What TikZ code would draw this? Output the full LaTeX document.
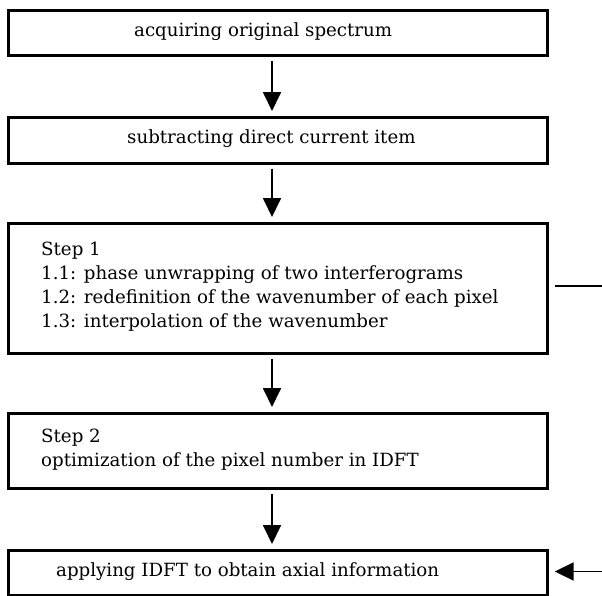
\documentclass[tikz,border=0pt]{standalone}
\usepackage{fontspec}
\setmainfont{DejaVu Serif}
\usetikzlibrary{arrows.meta}
\begin{document}
\begin{tikzpicture}[x=1pt,y=-1pt,
  box/.style={draw, line width=2.7pt, inner sep=0pt, anchor=north west, minimum width=539pt},
  txt/.style={inner sep=0pt, anchor=west, font=\fontsize{18.2}{24}\selectfont},
  arr/.style={line width=1.8pt, -{Triangle[width=18pt,length=19pt]}, shorten <=4pt, shorten >=5pt},
  ln/.style={line width=1.6pt}]
\useasboundingbox (0,0) rectangle (602,595);
\node[box, minimum height=45pt] (b1) at (7,9) {};
\node[box, minimum height=46pt] (b2) at (7,116) {};
\node[box, minimum height=130pt] (b3) at (7,222) {};
\node[box, minimum height=75pt] (b4) at (7,412) {};
\node[box, minimum height=45pt] (b5) at (7,549) {};
\node[txt] (t1) at (134,31.5) {acquiring original spectrum};
\node[txt] (t2) at (127,139) {subtracting direct current item};
\node[txt, align=left] (t3) at (41,287) {Step 1\\1.1: phase unwrapping of two interferograms\\1.2: redefinition of the wavenumber of each pixel\\1.3: interpolation of the wavenumber};
\node[txt, align=left] (t4) at (41,450) {Step 2\\optimization of the pixel number in IDFT};
\node[txt] (t5) at (56,571.5) {applying IDFT to obtain axial information};
\coordinate (ax) at (272,0);
\draw[arr] (b1.south -| ax) -- (b2.north -| ax);
\draw[arr] (b2.south -| ax) -- (b3.north -| ax);
\draw[arr] (b3.south -| ax) -- (b4.north -| ax);
\draw[arr] (b4.south -| ax) -- (b5.north -| ax);
\coordinate (r1) at (602,286);
\coordinate (r2) at (602,571.5);
\draw[ln, shorten <=6pt] (b3.east |- r1) -- (r1);
\draw[arr, shorten <=0pt, shorten >=6pt] (r2) -- (b5.east |- r2);
\end{tikzpicture}
\end{document}
